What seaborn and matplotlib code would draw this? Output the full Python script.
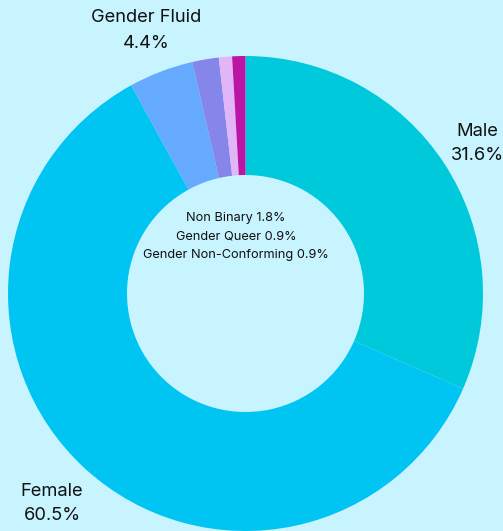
import matplotlib
matplotlib.use("Agg")
import matplotlib.pyplot as plt
import seaborn as sns

# data (clockwise from 12 o'clock)
labels = ["Male", "Female", "Gender Fluid", "Non Binary", "Gender Queer", "Gender Non-Conforming"]
shares = [31.6, 60.5, 4.4, 1.8, 0.9, 0.9]
colors = ["#00C9DB", "#00C4F2", "#66AAFF", "#8585EA", "#E2B4F8", "#BC14A4"]
bg = "#C8F4FF"

sns.set_theme(style="white")
plt.rcParams["font.family"] = ["Inter", "DejaVu Sans"]

W, H = 503, 531
fig = plt.figure(figsize=(W / 100, H / 100), dpi=100, facecolor=bg)
ax = fig.add_axes([0, 0, 1, 1])
ax.set_facecolor(bg)

cx, cy = 245.5, H - 293.5
r_out, r_in = 237.5, 118.5

ax.pie(shares, colors=colors, startangle=90, counterclock=False,
       center=(cx, cy), radius=r_out, frame=True,
       wedgeprops=dict(width=r_out - r_in, linewidth=0))
ax.set_xlim(0, W)
ax.set_ylim(0, H)
ax.set_aspect("equal")
ax.axis("off")

big = dict(fontsize=13.2, color="#111111", ha="center", va="center")
ax.text(146, H - 18, labels[2], **big)
ax.text(146, H - 43, f"{shares[2]}%", **big)
ax.text(477, H - 131, labels[0], **big)
ax.text(477, H - 155, f"{shares[0]}%", **big)
ax.text(52, H - 492, labels[1], **big)
ax.text(52, H - 516, f"{shares[1]}%", **big)

small = dict(fontsize=9.2, color="#111111", ha="center", va="center")
for i, y in zip(range(3, 6), [218, 237, 255]):
    ax.text(236, H - y, f"{labels[i]} {shares[i]}%", **small)

fig.savefig("out.png", dpi=100, facecolor=bg)
